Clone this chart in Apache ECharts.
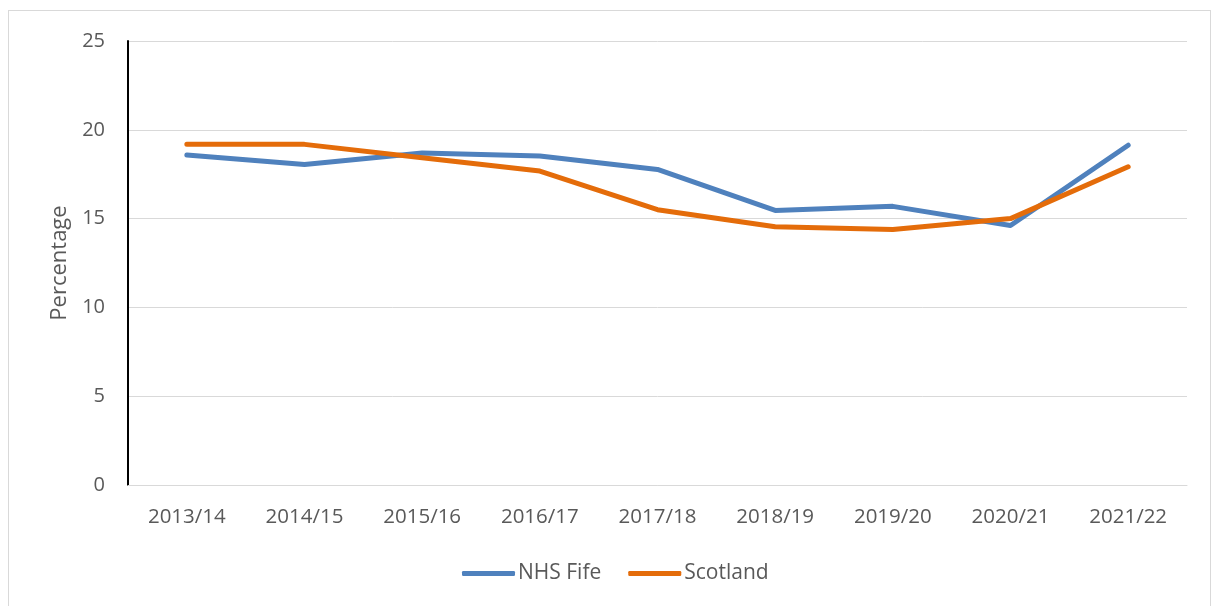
<!DOCTYPE html>
<html>
<head>
<meta charset="utf-8">
<script src="https://cdn.jsdelivr.net/npm/echarts@6/dist/echarts.min.js"></script>
<style>
html,body{margin:0;padding:0;background:#fff;}
#frame{position:absolute;left:8px;top:10px;width:1203px;height:620px;border:1px solid #d9d9d9;box-sizing:border-box;}
#chart{position:absolute;left:0;top:0;width:1214px;height:606px;}
</style>
</head>
<body>
<div id="frame"></div>
<div id="chart"></div>
<script>
const categories = ['2013/14','2014/15','2015/16','2016/17','2017/18','2018/19','2019/20','2020/21','2021/22'];
const nhsFife = [18.58, 18.05, 18.69, 18.53, 17.77, 15.46, 15.69, 14.61, 19.13];
const scotland = [19.18, 19.18, 18.43, 17.68, 15.5, 14.54, 14.39, 15.0, 17.92];
const yTicks = {min: 0, max: 25, interval: 5};

const font = 'Open Sans';
const chart = echarts.init(document.getElementById('chart'), null, {renderer: 'canvas'});
chart.setOption({
  animation: false,
  backgroundColor: 'transparent',
  grid: {left: 128, right: 27, top: 41, bottom: 121, containLabel: false},
  legend: {
    bottom: 17, left: 457,
    itemWidth: 53, itemHeight: 5, itemGap: 27,
    icon: 'roundRect',
    textStyle: {fontFamily: font, fontSize: 21, color: '#595959', padding: [0,0,0,-2]},
    data: ['NHS Fife', 'Scotland']
  },
  xAxis: {
    type: 'category',
    data: categories,
    boundaryGap: true,
    axisLine: {show: true, lineStyle: {color: '#d9d9d9', width: 1}},
    axisTick: {show: false},
    axisLabel: {fontFamily: font, fontSize: 20.5, color: '#595959', margin: 22}
  },
  yAxis: {
    type: 'value',
    min: yTicks.min, max: yTicks.max, interval: yTicks.interval,
    name: 'Percentage',
    nameLocation: 'middle',
    nameGap: 55,
    nameTextStyle: {fontFamily: font, fontSize: 22, color: '#595959'},
    axisLine: {show: true, lineStyle: {color: '#000', width: 2}},
    axisTick: {show: false},
    axisLabel: {fontFamily: font, fontSize: 20, color: '#595959', margin: 23},
    splitLine: {show: true, lineStyle: {color: '#d9d9d9', width: 1}}
  },
  series: [
    {name: 'NHS Fife', type: 'line', data: nhsFife, symbol: 'none',
     lineStyle: {width: 5, color: '#4f81bd', cap: 'round', join: 'round'}, itemStyle: {color: '#4f81bd'}, z: 2},
    {name: 'Scotland', type: 'line', data: scotland, symbol: 'none',
     lineStyle: {width: 5, color: '#e46c0a', cap: 'round', join: 'round'}, itemStyle: {color: '#e46c0a'}, z: 3}
  ]
});
</script>
</body>
</html>
